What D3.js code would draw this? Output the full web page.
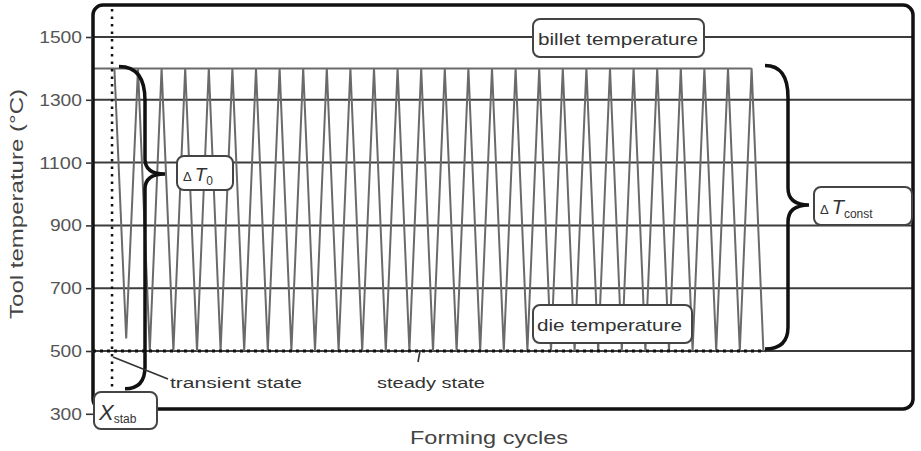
<!DOCTYPE html>
<html><head><meta charset="utf-8">
<script src="https://cdn.jsdelivr.net/npm/d3@7"></script>
<style>body{margin:0;background:#fff}svg{display:block;font-family:"Liberation Sans",Arial,Helvetica,sans-serif}</style>
</head><body>
<svg id="chart" width="921" height="451"></svg>
<script>
// ---- data ----
const tickTemps = [300, 500, 700, 900, 1100, 1300, 1500];
const gridTemps = [500, 700, 900, 1100, 1300, 1500];
const peakTemps = [1400,1400,1400,1400,1400,1400,1400,1400,1400,1400,1400,1400,1400,1400,
                   1400,1400,1400,1400,1400,1400,1400,1400,1400,1400,1400,1400,1400,1400];
const troughTemps = [540,500,500,500,500,500,500,500,500,500,500,500,500,500,
                     500,500,500,500,500,500,500,500,500,500,500,500,500,500];
const billetTemp = 1500;
const dieTemp = 500;
const xStabCycle = -0.1;
const deltaT0Range = [1400, 380];
const deltaTconstRange = [1400, 500];

// ---- layout ----
const svg = d3.select("#chart");
const frame = {x0: 93, x1: 913, y0: 5, y1: 409};
const y = d3.scaleLinear().domain([300, 1500]).range([413.8, 37]);
const x = d3.scaleLinear().domain([0, 28]).range([114.4, 775.2]);

// gridlines
svg.append("g").selectAll("line").data(gridTemps).join("line")
  .attr("x1", frame.x0).attr("x2", frame.x1)
  .attr("y1", d => y(d)).attr("y2", d => y(d))
  .attr("stroke", "#3c3c3c").attr("stroke-width", 2);

// zig-zag
const pts = [];
peakTemps.forEach((p, i) => { pts.push([i, p]); pts.push([i + 0.5, troughTemps[i]]); });
svg.append("path").datum(pts)
  .attr("d", d3.line().x(d => x(d[0])).y(d => y(d[1])))
  .attr("fill", "none").attr("stroke", "#6a6a6a").attr("stroke-width", 2);

// envelope top line
svg.append("line").attr("x1", frame.x0).attr("x2", x(peakTemps.length - 1))
  .attr("y1", y(peakTemps[0])).attr("y2", y(peakTemps[0]))
  .attr("stroke", "#6a6a6a").attr("stroke-width", 2);

// die temperature dotted line
svg.append("line").attr("x1", frame.x0).attr("x2", x(peakTemps.length - 0.5) + 2)
  .attr("y1", y(dieTemp)).attr("y2", y(dieTemp))
  .attr("stroke", "#111").attr("stroke-width", 3).attr("stroke-dasharray", "3,4");

// X_stab dotted vertical
svg.append("line").attr("x1", x(xStabCycle)).attr("x2", x(xStabCycle))
  .attr("y1", frame.y0 + 4).attr("y2", 393)
  .attr("stroke", "#111").attr("stroke-width", 2.5).attr("stroke-dasharray", "2.5,5");

// frame
svg.append("rect").attr("x", frame.x0).attr("y", frame.y0)
  .attr("width", frame.x1 - frame.x0).attr("height", frame.y1 - frame.y0)
  .attr("rx", 10).attr("fill", "none").attr("stroke", "#111").attr("stroke-width", 3.5);

// axis
const ax = svg.append("g").attr("transform", `translate(${frame.x0},0)`)
  .call(d3.axisLeft(y).tickValues(tickTemps).tickSize(7).tickPadding(4).tickFormat(d3.format("d")));
ax.select(".domain").remove();
ax.selectAll(".tick line").attr("stroke", "#333").attr("stroke-width", 1.6);
ax.selectAll(".tick text").attr("font-size", 17).attr("fill", "#555")
  .attr("font-family", "Liberation Sans, Arial, sans-serif")
  .attr("textLength", d => String(d).length * 10.7).attr("lengthAdjust", "spacingAndGlyphs");

// braces
function brace(xEnd, xv, xTip, yT, yTip, yB, r1, r2, r3, xEndB) {
  return `M${xEnd},${yT} Q${xv},${yT} ${xv},${yT + r1} L${xv},${yTip - r2} Q${xv},${yTip} ${xTip},${yTip}` +
         ` Q${xv},${yTip} ${xv},${yTip + r2} L${xv},${yB - r3} Q${xv},${yB} ${xEndB},${yB}`;
}
svg.append("path")
  .attr("d", brace(119, 145, 165, y(deltaT0Range[0]) - 2, 174, y(deltaT0Range[1]), 34, 15, 22, 125))
  .attr("fill", "none").attr("stroke", "#111").attr("stroke-width", 3.5);
svg.append("path")
  .attr("d", brace(765, 788, 809, y(deltaTconstRange[0]) - 3, 205, y(deltaTconstRange[1]) - 2, 32, 17, 22, 765))
  .attr("fill", "none").attr("stroke", "#111").attr("stroke-width", 3.5);

// leader lines
svg.append("path").attr("d", "M113,357 L168,379").attr("stroke", "#333").attr("stroke-width", 1.6).attr("fill", "none");
svg.append("path").attr("d", `M420,${y(dieTemp)} L418,362`).attr("stroke", "#333").attr("stroke-width", 1.6).attr("fill", "none");

// boxes
function box(x0, y0, w, h) {
  svg.append("rect").attr("x", x0).attr("y", y0).attr("width", w).attr("height", h).attr("rx", 7)
    .attr("fill", "#fff").attr("stroke", "#444").attr("stroke-width", 2);
}
function label(t, x0, yb, size, len, anchor) {
  const el = svg.append("text").attr("x", x0).attr("y", yb).attr("font-size", size)
    .attr("fill", "#333").attr("text-anchor", anchor || "start").text(t);
  if (len) el.attr("textLength", len).attr("lengthAdjust", "spacingAndGlyphs");
  return el;
}
box(533, 19, 171, 38);
label("billet temperature", 538, 45, 17, 160);
box(533, 305, 159, 38);
label("die temperature", 537, 331, 17, 145);

box(177, 156, 56, 34);
let t0 = svg.append("text").attr("x", 183).attr("y", 181).attr("fill", "#333");
t0.append("tspan").attr("font-size", 13).text("Δ");
t0.append("tspan").attr("dx", 3).attr("font-size", 19).attr("font-style", "italic").text("T");
t0.append("tspan").attr("dy", 4).attr("font-size", 12).text("0");

box(814, 187, 98, 38);
let tc = svg.append("text").attr("x", 820).attr("y", 214).attr("fill", "#333");
tc.append("tspan").attr("font-size", 13).text("Δ");
tc.append("tspan").attr("dx", 3).attr("font-size", 20).attr("font-style", "italic").text("T");
tc.append("tspan").attr("dy", 4).attr("font-size", 12).text("const");

box(94, 392, 63, 37);
let xs = svg.append("text").attr("x", 99).attr("y", 420).attr("fill", "#333");
xs.append("tspan").attr("font-size", 22).attr("font-style", "italic").text("X");
xs.append("tspan").attr("dy", 3).attr("font-size", 12).text("stab");

label("transient state", 170, 388, 14, 132);
label("steady state", 377, 388, 14, 108);

// axis titles
label("Forming cycles", 489, 444, 18, 158, "middle").attr("fill", "#444");
svg.append("text").attr("transform", "translate(23,204) rotate(-90)")
  .attr("text-anchor", "middle").attr("font-size", 18).attr("fill", "#444")
  .attr("textLength", 230).attr("lengthAdjust", "spacingAndGlyphs")
  .text("Tool temperature (°C)");
</script>
</body></html>
